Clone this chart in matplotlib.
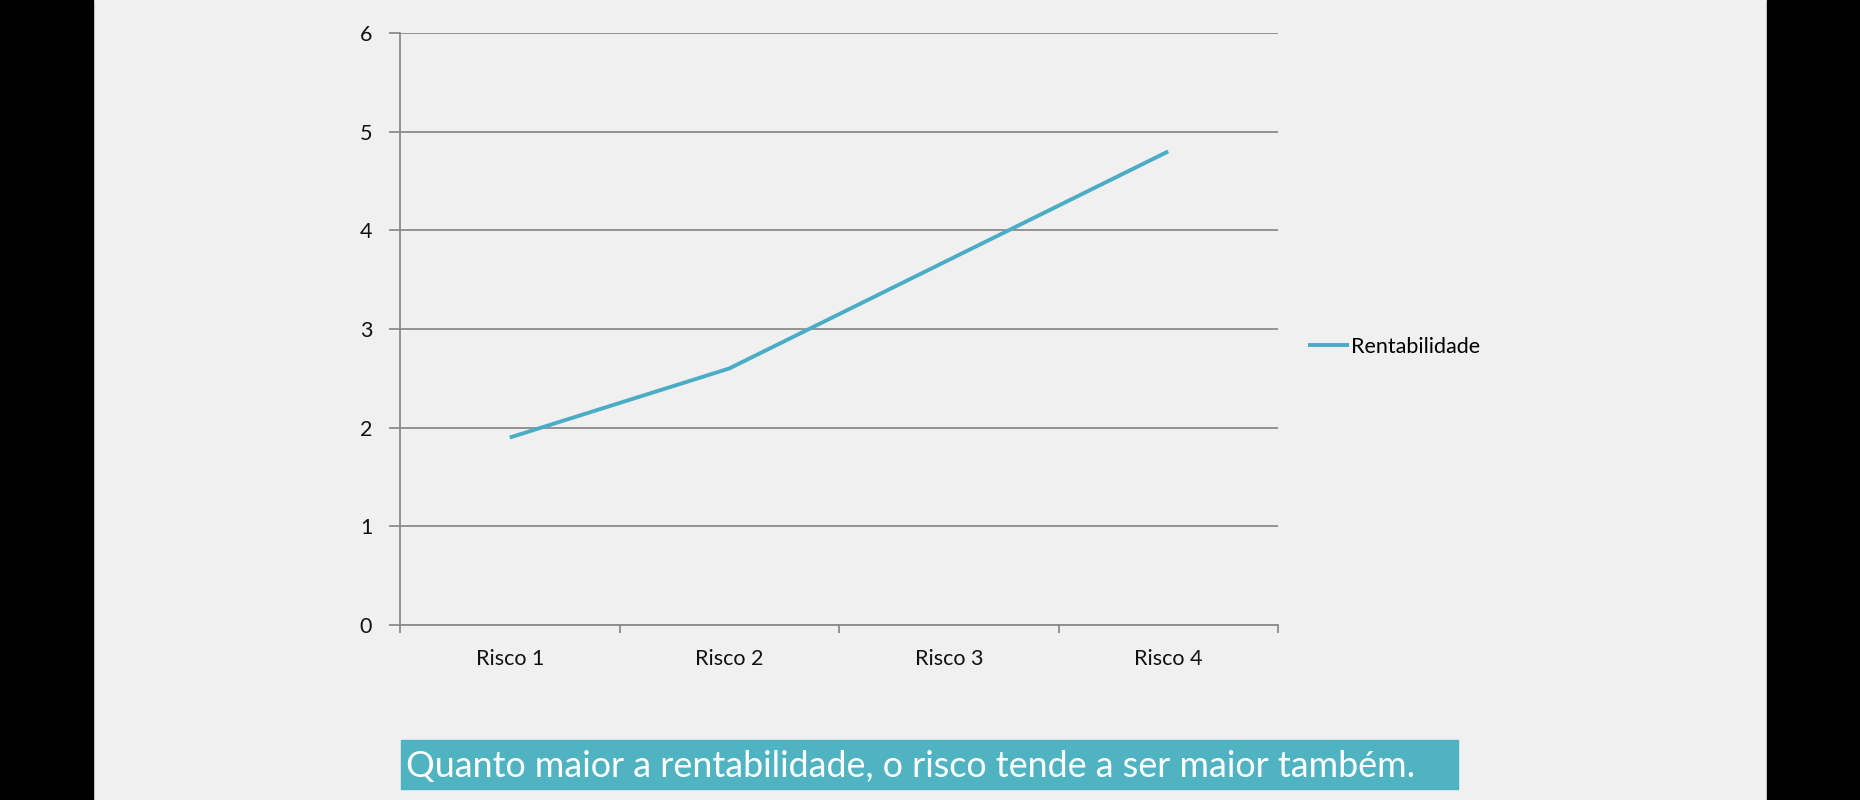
import matplotlib
matplotlib.use("Agg")
import matplotlib.pyplot as plt
from matplotlib.patches import Rectangle

categories = ["Risco 1", "Risco 2", "Risco 3", "Risco 4"]
rentabilidade = [1.9, 2.6, 3.7, 4.8]
y_ticks = [0, 1, 2, 3, 4, 5, 6]
series_name = "Rentabilidade"
caption = "Quanto maior a rentabilidade, o risco tende a ser maior também."

W, H = 1860, 800
BG = "#f0f0f0"
GRID = "#8c8c8c"
LINE = "#4bacc6"

plt.rcParams["font.family"] = ["Lato", "DejaVu Sans"]

fig = plt.figure(figsize=(W / 100, H / 100), dpi=100, facecolor=BG)

# black side bars
fig.patches.append(Rectangle((0, 0), 93 / W, 1, transform=fig.transFigure,
                             color="black", zorder=0))
fig.patches.append(Rectangle((1767 / W, 0), 1 - 1767 / W, 1,
                             transform=fig.transFigure, color="black", zorder=0))

ax = fig.add_axes([400 / W, 1 - 625 / H, 878 / W, 592 / H])
ax.set_facecolor(BG)
x = list(range(len(categories)))
ax.plot(x, rentabilidade, color=LINE, linewidth=2.8, label=series_name,
        solid_capstyle="butt", zorder=3)

ax.set_xlim(-0.5, len(categories) - 0.5)
ax.set_ylim(0, 6)
ax.set_yticks(y_ticks)
ax.yaxis.grid(True, color=GRID, linewidth=1.3)
ax.set_axisbelow(True)
for side in ("top", "right"):
    ax.spines[side].set_visible(False)
for side in ("left", "bottom"):
    ax.spines[side].set_color(GRID)
    ax.spines[side].set_linewidth(1.3)

ax.set_xticks(x, categories)
ax.set_xticks([i - 0.5 for i in range(len(categories) + 1)], minor=True)
ax.tick_params(axis="x", which="major", length=0, pad=17, labelsize=15.5,
               labelcolor="#111111")
ax.tick_params(axis="x", which="minor", length=6, color=GRID, width=1.3)
ax.tick_params(axis="y", length=8, color=GRID, width=1.3, pad=12,
               labelsize=15.5, labelcolor="#111111")

fig.legend(loc="center left", bbox_to_anchor=(1308 / W, 1 - 347 / H),
           frameon=False, fontsize=15.5, handlelength=1.9, handletextpad=0.1,
           borderpad=0, borderaxespad=0)

# caption banner
fig.patches.append(Rectangle((401 / W, 1 - 789 / H), 1057 / W, 49 / H,
                             transform=fig.transFigure, color="#4fb3c1",
                             zorder=1))
fig.text(406 / W, 1 - 766 / H, caption, color="white", fontsize=25.8,
         ha="left", va="center", zorder=2)

fig.savefig("out.png", dpi=100, facecolor=BG)
